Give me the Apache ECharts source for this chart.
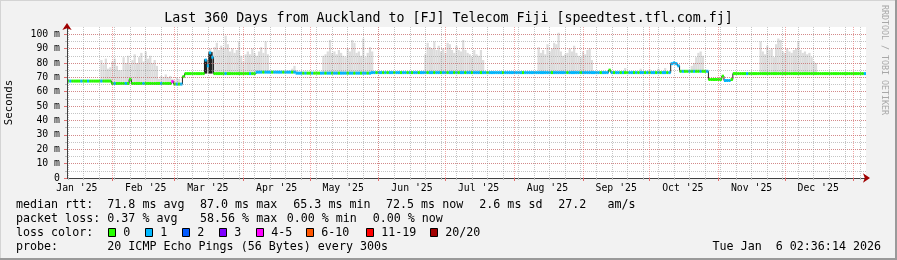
<!DOCTYPE html>
<html><head><meta charset="utf-8">
<script src="https://cdn.jsdelivr.net/npm/echarts@6/dist/echarts.min.js"></script>
<style>html,body{margin:0;padding:0;background:#f2f2f2}#c{width:897px;height:260px}</style>
</head><body><div id="c"></div>
<script>
// ---------------- DATA ----------------
const TITLE = 'Last 360 Days from Auckland to [FJ] Telecom Fiji [speedtest.tfl.com.fj]';
const START = Date.UTC(2025, 0, 11, 13, 12);   // left edge of the graph (bin 0)
const DAY = 86400000;
const monthStarts = ['2025-01-01','2025-02-01','2025-03-01','2025-04-01','2025-05-01','2025-06-01','2025-07-01','2025-08-01','2025-09-01','2025-10-01','2025-11-01','2025-12-01','2026-01-01'];
const monthLabels = ["Jan '25","Feb '25","Mar '25","Apr '25","May '25","Jun '25","Jul '25","Aug '25","Sep '25","Oct '25","Nov '25","Dec '25"];
const firstSunday = '2025-01-12';
const yTickStep = 10;

// median rtt (ms), one value per day bin, 360 bins
const medianRtt = [
67.4,67.4,67.4,67.4,67.4,67.4,67.4,67.4,67.4,67.4,
67.4,67.4,67.4,67.4,67.4,67.4,67.4,67.4,67.4,67.4,
65.7,65.7,65.7,65.7,65.7,65.7,65.7,65.7,68.5,65.7,
65.7,65.7,65.7,65.7,65.7,65.7,65.7,65.7,65.7,65.7,
65.7,65.7,65.7,65.7,65.7,65.7,65.7,67,65.3,65.3,
65.3,65.3,70.5,72.6,72.6,72.6,72.6,72.6,72.6,72.6,
72.6,72.6,82,78,87,84,72.6,72.6,72.6,72.6,
72.6,72.6,72.6,72.6,72.6,72.6,72.6,72.6,72.6,72.6,
72.6,72.6,72.6,72.6,72.6,73.6,73.6,73.6,73.6,73.6,
73.6,73.6,73.6,73.6,73.6,73.6,73.6,73.6,73.6,73.6,
73.6,73.6,73.6,72.9,72.9,72.9,72.9,72.9,72.9,72.9,
72.9,72.9,72.9,72.9,72.9,72.9,72.9,72.9,72.9,72.9,
72.9,72.9,72.9,72.9,72.9,72.9,72.9,72.9,72.9,72.9,
72.9,72.9,72.9,72.9,72.9,72.9,72.9,73.3,73.3,73.3,
73.3,73.3,73.3,73.3,73.3,73.3,73.3,73.3,73.3,73.3,
73.3,73.3,73.3,73.3,73.3,73.3,73.3,73.3,73.3,73.3,
73.3,73.3,73.3,73.3,73.3,73.3,73.3,73.3,73.3,73.3,
73.3,73.3,73.3,73.3,73.3,73.3,73.3,73.3,73.3,73.3,
73.3,73.3,73.3,73.3,73.3,73.3,73.3,73.3,73.3,73.3,
73.3,73.3,73.3,73.3,73.3,73.3,73.3,73.3,73.3,73.3,
73.3,73.3,73.3,73.3,73.3,73.3,73.3,73.3,73.3,73.3,
73.3,73.3,73.3,73.3,73.3,73.3,73.3,73.3,73.3,73.3,
73.3,73.3,73.3,73.3,73.3,73.3,73.3,73.3,73.3,73.3,
73.3,73.3,73.3,73.3,73.3,73.3,73.3,73.3,73.3,73.3,
73.3,73.3,73.3,73.3,75,73.3,73.3,73.3,73.3,73.3,
73.3,73.3,73.3,73.3,73.3,73.3,73.3,73.3,73.3,73.3,
73.3,73.3,73.3,73.3,73.3,73.3,73.3,73.3,73.3,73.3,
73.3,73.3,79.5,80,79.5,78,74.2,74.2,74.2,74.2,
74.2,74.2,74.2,74.2,74.2,74.2,74.2,74.2,74.2,68.5,
68.5,68.5,68.5,68.5,68.5,70.8,67.8,67.8,67.8,68.5,
72.6,72.6,72.6,72.6,72.6,72.6,72.6,72.6,72.6,72.6,
72.6,72.6,72.6,72.6,72.6,72.6,72.6,72.6,72.6,72.6,
72.6,72.6,72.6,72.6,72.6,72.6,72.6,72.6,72.6,72.6,
72.6,72.6,72.6,72.6,72.6,72.6,72.6,72.6,72.6,72.6,
72.6,72.6,72.6,72.6,72.6,72.6,72.6,72.6,72.6,72.6,
72.6,72.6,72.6,72.6,72.6,72.6,72.6,72.6,72.6,72.6
];

// lost pings (of 20) per day bin
const lossCount = [
0,1,0,0,0,0,1,0,0,1,
0,0,0,0,0,1,0,0,0,0,
0,1,0,0,0,0,1,0,0,0,
0,0,0,0,1,0,0,0,0,0,
0,0,1,0,0,0,0,4,0,1,
0,1,0,0,0,0,0,0,0,0,
0,0,1,1,1,1,0,0,0,0,
0,1,0,0,0,0,0,0,0,0,
0,0,1,0,0,1,1,1,0,1,
1,1,0,1,1,1,1,0,1,1,
1,0,1,1,1,1,0,1,0,0,
1,0,0,0,1,1,0,1,1,0,
1,1,0,1,1,1,0,1,1,0,
1,1,0,1,1,0,1,1,1,0,
1,1,0,1,0,1,1,0,1,1,
0,1,1,0,1,0,1,1,0,1,
1,1,0,1,1,0,1,1,0,1,
1,0,1,1,0,1,0,1,1,0,
1,1,0,1,1,1,0,1,1,0,
1,1,1,1,1,1,0,1,1,1,
1,1,1,1,1,0,1,1,1,1,
1,1,1,1,1,1,1,1,0,1,
1,1,1,1,1,0,1,1,1,1,
1,0,1,1,1,1,1,1,1,1,
0,1,1,1,0,1,0,1,1,0,
1,0,0,1,1,0,1,0,1,1,
0,1,0,1,1,0,1,0,1,1,
0,1,1,1,1,1,0,1,0,0,
1,0,1,0,0,1,0,0,1,0,
0,0,0,0,0,0,1,1,1,0,
0,0,0,0,0,0,1,0,0,0,
0,0,0,0,0,0,0,0,0,0,
0,0,0,0,0,0,0,0,0,0,
0,0,0,0,0,0,0,0,0,0,
0,0,0,0,0,0,0,0,0,0,
0,0,0,0,0,0,0,0,0,1
];

// smoke (upper ping spread, ms): first bin of each burst and its tops
const smokeStarts = [15, 41, 64, 101, 115, 161, 212, 251, 258, 262, 266, 269, 281, 312];
const smokeTops = [
  [82,79,83,76,77,81,83,78,75,75,84,80,85,79,82,86,80,84,87,81,88,83,85,80,82,78],
  [69,71,70,72,70,71,69,68,70,69],
  [90,88,91,94,89,92,90,99,93,88,90,87,89,95,85,81,86,88,86,90,87,85,88,91,87,95,86],
  [76,78,75],
  [85,86,88,96,87,88,86,89,87,85,84,90,88,96,94,87,88,85,97,84,87,91,88],
  [86,94,91,90,95,89,92,88,90,87,94,93,89,87,92,89,88,96,89,87,86,84,89,86,85,89,82],
  [91,87,89,86,93,88,90,94,93,101,88,85,86,87,90,88,92,87,85,84,88,86,89,90,82],
  [76.5],[76],[75.5],[76],[76.5],
  [78,80,84,87,88,85],
  [95,88,86,92,89,90,84,93,97,96,88,87,90,88,87,89,90,95,89,87,88,86,87,84,81,80]
];

// dense jumping median in March (dark columns)
const spikeFrom = [61.7, 63.7];
const spikeTo = [63.2, 65.6];
const spikeLow = [72.6, 72.6];
const spikeHigh = [82.5, 87.5];

const lossLegend = ['0','1','2','3','4-5','6-10','11-19','20/20'];
const lossColors = ['#26ff00','#00b8ff','#0059ff','#7e00ff','#ff00ff','#ff5500','#ff0000','#a10000'];
const statsRtt = ['median rtt:', '71.8 ms avg', '87.0 ms max', '65.3 ms min', '72.5 ms now', '2.6 ms sd', '27.2   am/s'];
const statsLoss = ['packet loss:', '0.37 % avg', '58.56 % max', '0.00 % min', '0.00 % now'];
const probeText = ['probe:', '20 ICMP Echo Pings (56 Bytes) every 300s'];
const stampText = 'Tue Jan  6 02:36:14 2026';
const creditText = 'RRDTOOL / TOBI OETIKER';

// ---------------- BUILD ----------------
const MONO = '"DejaVu Sans Mono", monospace';
const dayOf = s => (Date.parse(s + 'T00:00:00Z') - START) / DAY;
const monthTicks = monthStarts.map(dayOf).filter(v => v > 0 && v < 360);
const labelPos = monthLabels.map((l, i) => dayOf(monthStarts[i]) + 15);
const sundays = [];
for (let t = dayOf(firstSunday); t < 360; t += 7) sundays.push(t);

function lossIndex(n) {
  if (n <= 3) return n;
  if (n <= 5) return 4;
  if (n <= 10) return 5;
  if (n <= 19) return 6;
  return 7;
}

const smokeData = [];
smokeStarts.forEach((s, g) => smokeTops[g].forEach((top, k) => {
  const b = s + k; smokeData.push([b, medianRtt[b] - 0.5, top]);
}));
const spikeData = spikeFrom.map((f, i) => [f, spikeTo[i], spikeLow[i], spikeHigh[i]]);
const lineData = medianRtt.map((v, i) => [i, v]);
lineData.push([360, medianRtt[medianRtt.length - 1]]);
const lossData = medianRtt.map((v, i) => [i, v, lossIndex(lossCount[i])]);

const MINOR = {color: 'rgba(140,140,140,0.5)', width: 1, type: [1, 1]};
const MAJOR = {color: 'rgba(225,80,80,0.5)', width: 1, type: [1, 1]};

const graphics = [];
function txt(t, x, y, extra) {
  graphics.push(Object.assign({type: 'text', x: x, y: y, silent: true,
    style: {text: t, fill: '#000', font: '11.66px ' + MONO, verticalAlign: 'middle', align: 'left'}}, extra || {}));
}
const rttX = [16, 107.3, 200, 293.3, 386, 479.3, 558.3];
statsRtt.forEach((t, i) => txt(t, rttX[i], 204.5));
const lossX = [16, 107.3, 200, 286.7, 372.7];
statsLoss.forEach((t, i) => txt(t, lossX[i], 218.5));
txt('loss color:', 16, 232.5);
const boxX = [108.5, 145.5, 182.5, 219.5, 256.5, 306.5, 366.5, 430.5];
lossLegend.forEach((t, i) => {
  graphics.push({type: 'rect', silent: true, shape: {x: boxX[i], y: 228.5, width: 7, height: 8},
    style: {fill: lossColors[i], stroke: '#000', lineWidth: 1}});
  txt(t, boxX[i] + 14.7, 232.5);
});
txt(probeText[0], 16, 246.5);
txt(probeText[1], 107.3, 246.5);
graphics.push({type: 'text', x: 881, y: 246.5, silent: true,
  style: {text: stampText, fill: '#000', font: '11.66px ' + MONO, verticalAlign: 'middle', align: 'right'}});
graphics.push({type: 'text', x: 884, y: 5, rotation: -Math.PI / 2, silent: true,
  style: {text: creditText, fill: '#a8a8a8', font: '8.3px ' + MONO, verticalAlign: 'middle', align: 'left'}});
// 3-D frame of the rrdtool canvas
graphics.push({type: 'rect', silent: true, shape: {x: 0, y: 0, width: 897, height: 1}, style: {fill: '#d4d4d4'}});
graphics.push({type: 'rect', silent: true, shape: {x: 0, y: 0, width: 1, height: 260}, style: {fill: '#d4d4d4'}});
graphics.push({type: 'rect', silent: true, shape: {x: 895, y: 0, width: 2, height: 260}, style: {fill: '#9a9a9a'}});
graphics.push({type: 'rect', silent: true, shape: {x: 0, y: 258, width: 897, height: 2}, style: {fill: '#9a9a9a'}});

const chart = echarts.init(document.getElementById('c'), null, {renderer: 'canvas', width: 897, height: 260});
chart.setOption({
  animation: false,
  backgroundColor: '#f2f2f2',
  title: {text: TITLE, left: 'center', top: 12, padding: 0,
    textStyle: {fontFamily: MONO, fontSize: 13.3, fontWeight: 'normal', color: '#000'}},
  grid: {left: 67, top: 27, width: 799, height: 151, show: true, backgroundColor: '#ffffff', borderWidth: 0,
    containLabel: false, outerBoundsMode: 'none'},
  xAxis: [
    {type: 'value', min: 0, max: 360, z: 3, position: 'bottom', offset: 0,
      axisLine: {show: true, lineStyle: {color: '#a00000', width: 1}, symbol: ['none', 'arrow'], symbolSize: [7, 7], symbolOffset: [0, 4]},
      axisTick: {show: true, customValues: sundays, length: 2, lineStyle: {color: '#bbb'}},
      axisLabel: {show: false},
      splitLine: {show: true, lineStyle: MINOR}},
    {type: 'value', min: 0, max: 360, z: 3, position: 'bottom', offset: 0,
      axisLine: {show: true, lineStyle: {color: '#404040', width: 1}},
      axisTick: {show: true, customValues: monthTicks, length: 3, lineStyle: {color: '#e07070'}},
      axisLabel: {customValues: labelPos, margin: 5, fontFamily: MONO, fontSize: 9.8, color: '#000',
        formatter: v => { let best = 0; labelPos.forEach((p, i) => { if (Math.abs(p - v) < Math.abs(labelPos[best] - v)) best = i; }); return monthLabels[best]; }},
      splitLine: {show: true, lineStyle: MAJOR}}
  ],
  yAxis: [
    {type: 'value', min: 0, max: 105, interval: yTickStep / 2, z: 3, position: 'left', offset: 0,
      axisLine: {show: true, lineStyle: {color: '#a00000', width: 1}, symbol: ['none', 'arrow'], symbolSize: [7, 7], symbolOffset: [0, 4]},
      axisTick: {show: true, length: 2, lineStyle: {color: '#bbb'}},
      axisLabel: {show: false},
      splitLine: {show: true, showMinLine: false, showMaxLine: false, lineStyle: MINOR}},
    {type: 'value', min: 0, max: 105, interval: yTickStep, z: 3, position: 'left', offset: 0,
      name: 'Seconds', nameLocation: 'middle', nameGap: 52, nameRotate: 90,
      nameTextStyle: {fontFamily: MONO, fontSize: 10.8, color: '#000'},
      axisLine: {show: true, lineStyle: {color: '#404040', width: 1}},
      axisTick: {show: true, length: 3, lineStyle: {color: '#e07070'}},
      axisLabel: {margin: 7, fontFamily: MONO, fontSize: 9.8, color: '#000',
        formatter: v => v === 0 ? '0' : (v % yTickStep === 0 ? v + ' m' : '')},
      splitLine: {show: true, showMinLine: false, showMaxLine: false, lineStyle: MAJOR}}
  ],
  series: [
    {type: 'custom', name: 'smoke', xAxisIndex: 1, yAxisIndex: 1, data: smokeData, z: 1, clip: true,
      encode: {x: 0, y: [1, 2]},
      renderItem: (p, api) => {
        const a = api.coord([api.value(0), api.value(2)]);
        const b = api.coord([api.value(0) + 1, api.value(1)]);
        return {type: 'rect', shape: {x: a[0], y: a[1], width: b[0] - a[0], height: b[1] - a[1]}, style: {fill: '#dcdcdc'}};
      }},
    {type: 'custom', name: 'dense', xAxisIndex: 1, yAxisIndex: 1, data: spikeData, z: 1, clip: true,
      encode: {x: [0, 1], y: [2, 3]},
      renderItem: (p, api) => {
        const a = api.coord([api.value(0), api.value(3)]);
        const b = api.coord([api.value(1), api.value(2)]);
        return {type: 'rect', shape: {x: a[0], y: a[1], width: b[0] - a[0], height: b[1] - a[1]}, style: {fill: '#202020'}};
      }},
    {type: 'line', name: 'median', xAxisIndex: 1, yAxisIndex: 1, data: lineData, step: 'end', z: 1,
      showSymbol: false, symbol: 'none', lineStyle: {color: '#202020', width: 1}},
    {type: 'custom', name: 'loss', xAxisIndex: 1, yAxisIndex: 1, data: lossData, z: 2, clip: true,
      encode: {x: 0, y: 1},
      renderItem: (p, api) => {
        const a = api.coord([api.value(0), api.value(1)]);
        const b = api.coord([api.value(0) + 1, api.value(1)]);
        return {type: 'rect', shape: {x: a[0], y: a[1] - 1.5, width: b[0] - a[0], height: 3}, style: {fill: lossColors[api.value(2)]}};
      }}
  ],
  graphic: graphics
});
</script></body></html>
